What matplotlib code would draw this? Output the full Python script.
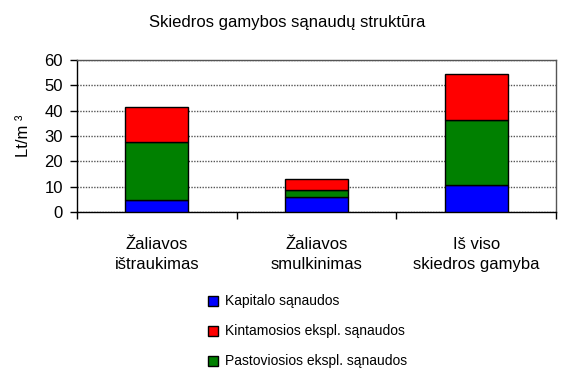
import matplotlib
matplotlib.use("Agg")
import matplotlib.pyplot as plt
from matplotlib.patches import Patch
import numpy as np

plt.rcParams['font.family'] = ['Liberation Sans', 'DejaVu Sans']

categories = ["Žaliavos\ništraukimas", "Žaliavos\nsmulkinimas", "Iš viso\nskiedros gamyba"]
kapitalo = [4.9, 5.8, 10.5]
pastoviosios = [22.6, 2.9, 26.0]
kintamosios = [13.9, 4.5, 18.0]
yticks = [0, 10, 20, 30, 40, 50, 60]

fig = plt.figure(figsize=(5.75, 3.92), dpi=100)
ax = fig.add_axes([77/575, 1-212/392, (556-77)/575, (212-60)/392])

x = np.arange(len(categories))
w = 0.395
ax.bar(x, kapitalo, w, color='#0000ff', edgecolor='black', linewidth=1, zorder=3)
ax.bar(x, pastoviosios, w, bottom=kapitalo, color='#008000', edgecolor='black', linewidth=1, zorder=3)
bot2 = np.array(kapitalo) + np.array(pastoviosios)
ax.bar(x, kintamosios, w, bottom=bot2, color='#ff0000', edgecolor='black', linewidth=1, zorder=3)

ax.set_xlim(-0.5, 2.5)
ax.set_ylim(0, 60)
ax.set_yticks(yticks)
ax.set_yticklabels([str(v) for v in yticks], fontsize=12)
ax.yaxis.grid(True, color='#555555', linestyle=(0, (1, 1)), linewidth=1, zorder=0)
ax.tick_params(axis='y', direction='out', length=5, width=1, pad=5)

ax.set_xticks([-0.5, 0.5, 1.5, 2.5])
ax.set_xticklabels([])
ax.tick_params(axis='x', direction='out', length=5, width=1)
ax.set_xticks(x, minor=True)
ax.set_xticklabels(categories, minor=True, fontsize=12, linespacing=1.4)
ax.tick_params(axis='x', which='minor', length=0, pad=18)

for s in ax.spines.values():
    s.set_linewidth(1)
    s.set_color('black')
ax.spines['top'].set_color('#555555')
ax.spines['right'].set_color('#555555')

ax.set_ylabel("Lt/m ³", fontsize=12, labelpad=10)
fig.text(0.5, 1-22/392, "Skiedros gamybos sąnaudų struktūra", ha='center', va='center', fontsize=12)

handles = [Patch(facecolor='#0000ff', edgecolor='black'),
           Patch(facecolor='#ff0000', edgecolor='black'),
           Patch(facecolor='#008000', edgecolor='black')]
labels = ["Kapitalo sąnaudos", "Kintamosios ekspl. sąnaudos", "Pastoviosios ekspl. sąnaudos"]
fig.legend(handles, labels, loc='upper left', bbox_to_anchor=(195/575, 1-282/392),
           frameon=False, fontsize=10, handlelength=0.75, handleheight=0.75,
           handletextpad=0.5, labelspacing=1.15)

fig.savefig("out.png", dpi=100)
